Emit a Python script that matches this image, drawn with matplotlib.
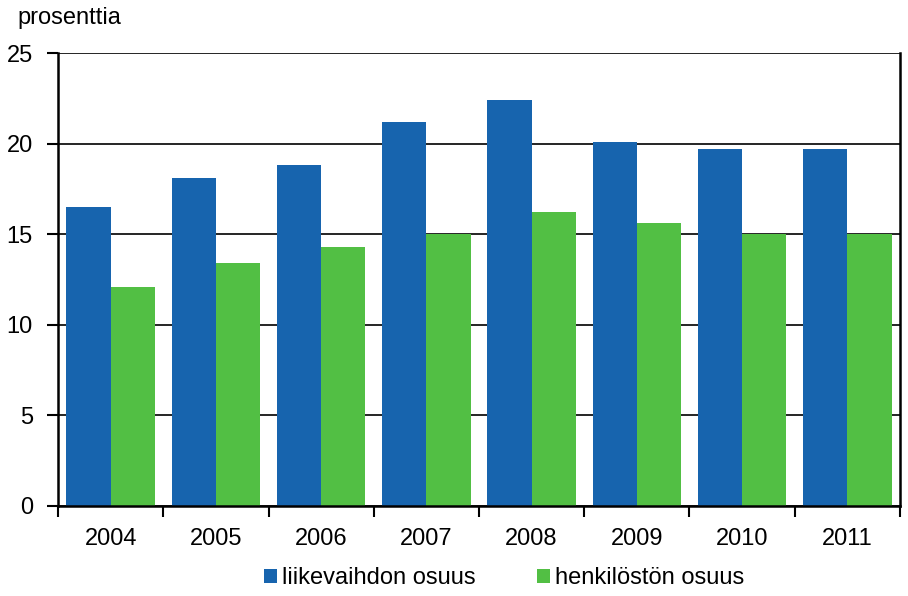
import numpy as np
import matplotlib.pyplot as plt

# data
years = ['2004', '2005', '2006', '2007', '2008', '2009', '2010', '2011']
liikevaihto = [16.5, 18.1, 18.8, 21.2, 22.4, 20.1, 19.7, 19.7]
henkilosto = [12.1, 13.4, 14.3, 15.0, 16.2, 15.6, 15.0, 15.0]

blue = '#1764ae'
green = '#52bf44'

plt.rcParams['font.family'] = ['Liberation Sans', 'DejaVu Sans']
fs = 17

fig = plt.figure(figsize=(9.08, 5.96), dpi=100)
ax = fig.add_axes([58/908, 1-506/596, (900-58)/908, (506-53)/596])

x = np.arange(len(years))
w = 0.42
ax.bar(x - w/2, liikevaihto, w, color=blue, label='liikevaihdon osuus', zorder=2)
ax.bar(x + w/2, henkilosto, w, color=green, label='henkilöstön osuus', zorder=2)

ax.set_xlim(-0.5, len(years) - 0.5)
ax.set_ylim(0, 25)
ax.set_yticks([0, 5, 10, 15, 20, 25])
ax.yaxis.grid(True, color='black', linewidth=1.2, zorder=0)
ax.set_axisbelow(True)

ax.set_xticks(x)
ax.set_xticklabels(years)
ax.set_xticks(np.arange(-0.5, len(years)), minor=True)
ax.tick_params(axis='x', which='major', length=0, pad=16, labelsize=fs)
ax.tick_params(axis='x', which='minor', length=8, width=1.5, direction='out')
ax.tick_params(axis='y', length=8, width=1.5, direction='out', pad=10, labelsize=fs)

ax.spines['top'].set_visible(False)
for s in ['left', 'bottom', 'right']:
    ax.spines[s].set_linewidth(1.8)
    ax.spines[s].set_color('black')

fig.text(17/908, 1-18/596, 'prosenttia', fontsize=fs, va='center', ha='left')

ax.legend(loc='center', bbox_to_anchor=((504-58)/842, (506-578)/(506-53)), ncol=2, frameon=False,
          fontsize=fs, handlelength=0.55, handleheight=0.55, handletextpad=0.2, columnspacing=2.6)

fig.savefig('out.png', dpi=100)
